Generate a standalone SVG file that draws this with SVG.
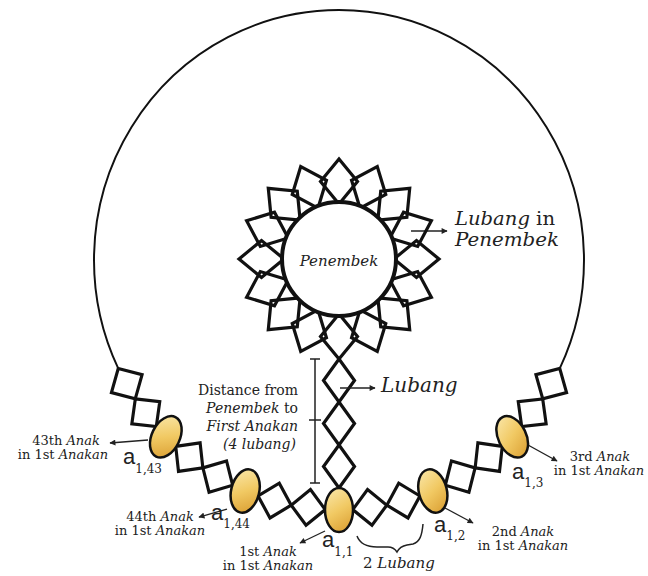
<svg xmlns="http://www.w3.org/2000/svg" xmlns:xlink="http://www.w3.org/1999/xlink" width="648" height="576" viewBox="0 0 648 576">
<style>
.dia{fill:none;stroke:#111;stroke-width:3.2;stroke-linejoin:miter}
.lbl{font-family:"DejaVu Serif",serif;font-size:13px;fill:#222}
.it{font-style:italic}
.asym{font-family:"Liberation Sans",sans-serif;font-size:22px;fill:#222}
.sub{font-family:"DejaVu Serif",serif;font-size:12px}
.arr{stroke:#222;stroke-width:1.3;fill:none;marker-end:url(#ah)}
.anak{fill:url(#gold);stroke:#111;stroke-width:2.5}
</style>
<defs>
<marker id="ah" viewBox="0 0 10 10" refX="9" refY="5" markerWidth="7" markerHeight="6" markerUnits="userSpaceOnUse" orient="auto">
<path d="M0,0 L10,5 L0,10 z" fill="#222"/>
</marker>
<linearGradient id="gold" x1="0.3" y1="0" x2="0.7" y2="1">
<stop offset="0" stop-color="#f9e4a2"/>
<stop offset="0.5" stop-color="#f1c963"/>
<stop offset="1" stop-color="#dca236"/>
</linearGradient>
<polygon id="srh" class="dia" points="339,314 357.5,336.5 339,359 320.5,336.5"/>
<polygon id="cd" class="dia" points="-17.5,249.4 0,231.4 17.5,249.4 0,267.4"/>
</defs>

<g id="connectors">
<g transform="translate(339,260) scale(0.98,1)">
<path id="outer-ring" d="M-225.3,108.4 A250,250 0 1 1 225.3,108.4" fill="none" stroke="#111" stroke-width="2"/>
<use xlink:href="#cd" transform="rotate(7.23)"/>
<use xlink:href="#cd" transform="rotate(15.27)"/>
<use xlink:href="#cd" transform="rotate(29.73)"/>
<use xlink:href="#cd" transform="rotate(37.77)"/>
<use xlink:href="#cd" transform="rotate(52.23)"/>
<use xlink:href="#cd" transform="rotate(60.27)"/>
<use xlink:href="#cd" transform="rotate(-7.23)"/>
<use xlink:href="#cd" transform="rotate(-15.27)"/>
<use xlink:href="#cd" transform="rotate(-29.73)"/>
<use xlink:href="#cd" transform="rotate(-37.77)"/>
<use xlink:href="#cd" transform="rotate(-52.23)"/>
<use xlink:href="#cd" transform="rotate(-60.27)"/>
</g>
<polygon class="dia" points="339,359 354.5,380.5 339,402 323.5,380.5"/>
<polygon class="dia" points="339,402 354.5,423.5 339,445 323.5,423.5"/>
<polygon class="dia" points="339,445 354.5,466.5 339,488 323.5,466.5"/>
<path d="M315,359 V483 M310,359 H320 M310,483 H320 M309,420 H321" stroke="#222" stroke-width="1.5" fill="none"/>
<path d="M357,536 C360,544 367,547 377,547 L388,547 C392,547 395,549 397,552 C399,548 402,546 407,545 L413,544 C420,542 422,535 423,524" stroke="#222" stroke-width="1.5" fill="none"/>
<line class="arr" x1="411" y1="231" x2="447" y2="231"/>
<line class="arr" x1="340" y1="388" x2="375" y2="388"/>
<line class="arr" x1="148" y1="440" x2="110" y2="443"/>
<line class="arr" x1="227" y1="509" x2="199" y2="517"/>
<line class="arr" x1="325" y1="531" x2="300" y2="543"/>
<line class="arr" x1="445" y1="508" x2="473" y2="523"/>
<line class="arr" x1="528" y1="445" x2="557" y2="461"/>
</g>

<g id="penembek">
<use xlink:href="#srh" transform="rotate(0 339 259)"/>
<use xlink:href="#srh" transform="rotate(22.5 339 259)"/>
<use xlink:href="#srh" transform="rotate(45 339 259)"/>
<use xlink:href="#srh" transform="rotate(67.5 339 259)"/>
<use xlink:href="#srh" transform="rotate(90 339 259)"/>
<use xlink:href="#srh" transform="rotate(112.5 339 259)"/>
<use xlink:href="#srh" transform="rotate(135 339 259)"/>
<use xlink:href="#srh" transform="rotate(157.5 339 259)"/>
<use xlink:href="#srh" transform="rotate(180 339 259)"/>
<use xlink:href="#srh" transform="rotate(202.5 339 259)"/>
<use xlink:href="#srh" transform="rotate(225 339 259)"/>
<use xlink:href="#srh" transform="rotate(247.5 339 259)"/>
<use xlink:href="#srh" transform="rotate(270 339 259)"/>
<use xlink:href="#srh" transform="rotate(292.5 339 259)"/>
<use xlink:href="#srh" transform="rotate(315 339 259)"/>
<use xlink:href="#srh" transform="rotate(337.5 339 259)"/>
<circle cx="339" cy="259" r="57" fill="#fff" stroke="#111" stroke-width="4"/>
<text class="lbl it" x="339" y="266" text-anchor="middle" style="font-size:15px">Penembek</text>
</g>

<g id="anak-1"><ellipse class="anak" cx="339" cy="510" rx="14" ry="22"/></g>
<g id="anak-2"><ellipse class="anak" cx="432.8" cy="491" rx="14" ry="22" transform="rotate(-14 432.8 491)"/></g>
<g id="anak-3"><ellipse class="anak" cx="512.2" cy="436.8" rx="14" ry="22" transform="rotate(-26 512.2 436.8)"/></g>
<g id="anak-44"><ellipse class="anak" cx="245.2" cy="491" rx="14" ry="22" transform="rotate(14 245.2 491)"/></g>
<g id="anak-43"><ellipse class="anak" cx="165.8" cy="436.8" rx="14" ry="22" transform="rotate(26 165.8 436.8)"/></g>

<g id="labels">
<text class="lbl it" x="455" y="225" style="font-size:18px" textLength="100" lengthAdjust="spacingAndGlyphs">Lubang <tspan font-style="normal">in</tspan></text>
<text class="lbl it" x="455" y="246" style="font-size:18px" textLength="104" lengthAdjust="spacingAndGlyphs">Penembek</text>
<text class="lbl it" x="381" y="392" style="font-size:20px">Lubang</text>
<text class="lbl" x="298" y="395" text-anchor="end" style="font-size:14px">Distance from</text>
<text class="lbl" x="298" y="413" text-anchor="end" style="font-size:14px"><tspan class="it">Penembek</tspan> to</text>
<text class="lbl it" x="298" y="431" text-anchor="end" style="font-size:14px">First Anakan</text>
<text class="lbl it" x="296" y="449" text-anchor="end" style="font-size:14px">(4 lubang)</text>

<text class="lbl" x="66" y="445" text-anchor="middle">43th <tspan class="it">Anak</tspan></text>
<text class="lbl" x="63" y="459" text-anchor="middle">in 1st <tspan class="it">Anakan</tspan></text>
<text class="asym" x="123" y="464">a<tspan class="sub" dy="9">1,43</tspan></text>

<text class="lbl" x="160" y="521" text-anchor="middle">44th <tspan class="it">Anak</tspan></text>
<text class="lbl" x="160" y="535" text-anchor="middle">in 1st <tspan class="it">Anakan</tspan></text>
<text class="asym" x="211" y="520">a<tspan class="sub" dy="8">1,44</tspan></text>

<text class="lbl" x="268" y="556" text-anchor="middle">1st <tspan class="it">Anak</tspan></text>
<text class="lbl" x="268" y="570" text-anchor="middle">in 1st <tspan class="it">Anakan</tspan></text>
<text class="asym" x="322" y="547">a<tspan class="sub" dy="9">1,1</tspan></text>

<text class="lbl" x="363" y="568" style="font-size:15px">2 <tspan class="it">Lubang</tspan></text>

<text class="asym" x="434" y="532">a<tspan class="sub" dy="8">1,2</tspan></text>
<text class="lbl" x="523" y="536" text-anchor="middle">2nd <tspan class="it">Anak</tspan></text>
<text class="lbl" x="523" y="550" text-anchor="middle">in 1st <tspan class="it">Anakan</tspan></text>

<text class="asym" x="512" y="479">a<tspan class="sub" dy="8">1,3</tspan></text>
<text class="lbl" x="600" y="461" text-anchor="middle">3rd <tspan class="it">Anak</tspan></text>
<text class="lbl" x="599" y="475" text-anchor="middle">in 1st <tspan class="it">Anakan</tspan></text>
</g>
</svg>
